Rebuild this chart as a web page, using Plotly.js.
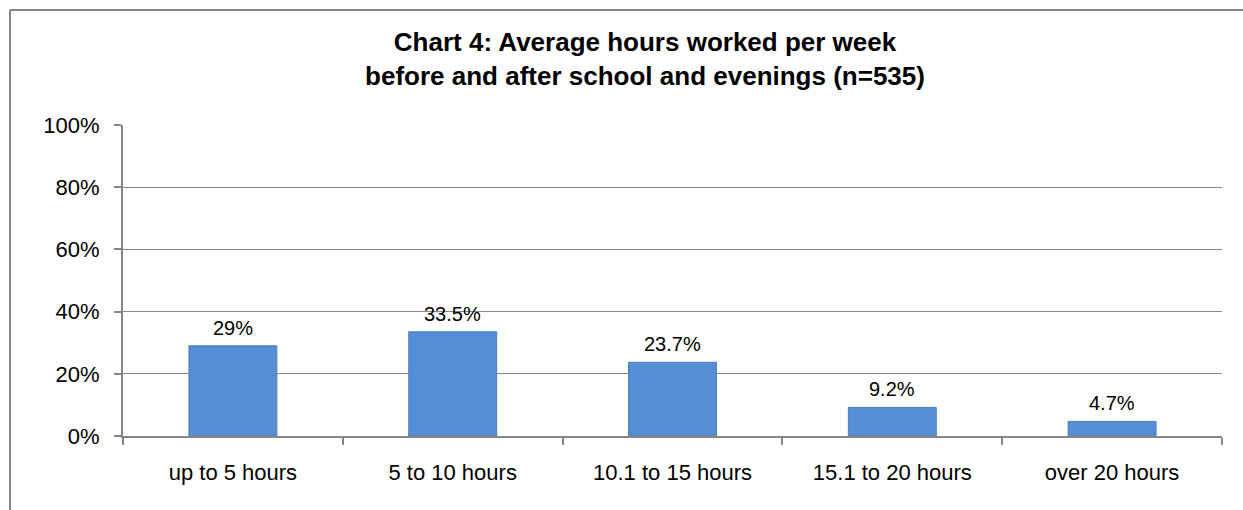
<!DOCTYPE html>
<html>
<head>
<meta charset="utf-8">
<script src="https://cdn.plot.ly/plotly-3.0.1.min.js"></script>
<style>
  body { margin: 0; background: #fff; overflow: hidden; }
  #chart { width: 1243px; height: 510px; }
</style>
</head>
<body>
<div id="chart"></div>
<script>
// dados do gráfico
const categorias = ['up to 5 hours', '5 to 10 hours', '10.1 to 15 hours', '15.1 to 20 hours', 'over 20 hours'];
const valores = [29, 33.5, 23.7, 9.2, 4.7];
const rotulos = ['29%', '33.5%', '23.7%', '9.2%', '4.7%'];
const tickVals = [0, 20, 40, 60, 80, 100];
const tickTxt = ['0%', '20%', '40%', '60%', '80%', '100%'];

const cinza = '#868686';
const fonte = 'Liberation Sans, Arial';

const trace = {
    x: categorias,
    y: valores,
    type: 'bar',
    marker: { color: '#558ED5', line: { color: '#4A7EBB', width: 1 } },
    hoverinfo: 'skip'
};

// rótulos acima das barras
const notas = categorias.map((c, i) => ({
    x: c,
    y: valores[i],
    text: rotulos[i],
    showarrow: false,
    yanchor: 'middle',
    yshift: 18,
    font: { family: fonte, size: 20, color: '#000' }
}));

// moldura do gráfico (coordenadas do papel: área útil 123..1222 x 125..436)
const plotW = 1243 - 123 - 21;
const plotH = 510 - 125 - 74;
const molduraX0 = (10 - 123) / plotW;
const molduraY1 = (436 - 10) / plotH;

const layout = {
    width: 1243,
    height: 510,
    margin: { l: 123, r: 21, t: 125, b: 74 },
    paper_bgcolor: '#fff',
    plot_bgcolor: '#fff',
    font: { family: fonte, color: '#000' },
    showlegend: false,
    bargap: 0.6,
    title: {
        text: '<b>Chart 4: Average hours worked per week<br>before and after school and evenings (n=535)</b>',
        font: { size: 26, color: '#000' },
        xref: 'paper', x: 0.475, xanchor: 'center',
        yref: 'container', y: 0.9, yanchor: 'top'
    },
    xaxis: {
        showline: true, linecolor: cinza, linewidth: 2,
        ticks: 'outside', ticklen: 7, tickcolor: cinza, tickwidth: 2,
        tickson: 'boundaries',
        ticklabelstandoff: 16,
        tickfont: { size: 22 },
        showgrid: false,
        fixedrange: true
    },
    yaxis: {
        range: [0, 100],
        tickvals: tickVals,
        ticktext: tickTxt,
        showline: true, linecolor: cinza, linewidth: 2,
        ticks: 'outside', ticklen: 7, tickcolor: cinza, tickwidth: 2,
        ticklabelstandoff: 10,
        tickfont: { size: 22 },
        showgrid: true, gridcolor: cinza, gridwidth: 1.3,
        zeroline: false,
        fixedrange: true
    },
    annotations: notas,
    shapes: [
        { type: 'line', xref: 'paper', yref: 'paper', x0: molduraX0, x1: 1.05, y0: molduraY1, y1: molduraY1,
          line: { color: cinza, width: 2 } },
        { type: 'line', xref: 'paper', yref: 'paper', x0: molduraX0, x1: molduraX0, y0: molduraY1, y1: -0.4,
          line: { color: cinza, width: 2 } }
    ]
};

Plotly.newPlot('chart', [trace], layout, { displayModeBar: false, staticPlot: true });
</script>
</body>
</html>
